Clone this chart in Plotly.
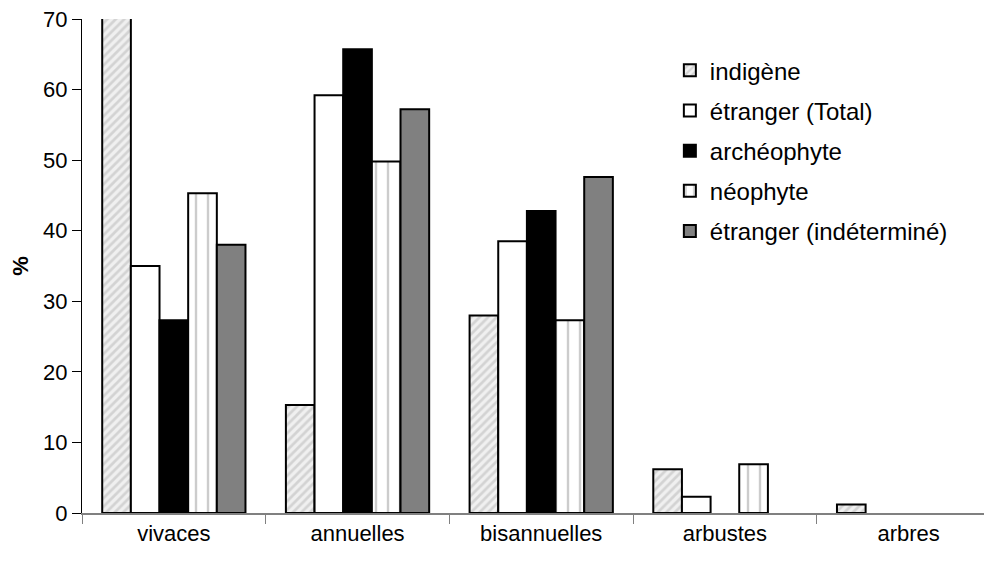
import plotly.graph_objects as go

# categories and series (percent)
categories = ["vivaces", "annuelles", "bisannuelles", "arbustes", "arbres"]
indigene = [70.2, 15.3, 28.0, 6.2, 1.2]
etranger_total = [35.0, 59.2, 38.5, 2.3, None]
archeophyte = [27.3, 65.7, 42.8, None, None]
neophyte = [45.3, 49.8, 27.3, 6.9, None]
etranger_indet = [38.0, 57.2, 47.6, None, None]

font = "Liberation Sans, Arial, sans-serif"
outline = dict(color="black", width=2)

fig = go.Figure()

# indigène - light gray diagonal hatch
fig.add_trace(go.Bar(
    x=categories, y=indigene, name="indigène", legendgroup="a", cliponaxis=False,
    marker=dict(color="white", line=outline,
                pattern=dict(shape="/", fgcolor="#b5b5b5", bgcolor="#f0f0f0",
                             size=6, solidity=0.45))
))

# étranger (Total) - plain white
fig.add_trace(go.Bar(
    x=categories, y=etranger_total, name="étranger (Total)", legendgroup="b",
    cliponaxis=False, marker=dict(color="white", line=outline)
))

# archéophyte - black
fig.add_trace(go.Bar(
    x=categories, y=archeophyte, name="archéophyte", legendgroup="c",
    cliponaxis=False, marker=dict(color="black", line=outline)
))

# néophyte - white with gray vertical dashes
fig.add_trace(go.Bar(
    x=categories, y=neophyte, name="néophyte", legendgroup="d", cliponaxis=False,
    marker=dict(color="white", line=outline,
                pattern=dict(shape="|", fgcolor="#999999", bgcolor="white",
                             size=12, solidity=0.2))
))

# étranger (indéterminé) - mid gray
fig.add_trace(go.Bar(
    x=categories, y=etranger_indet, name="étranger (indéterminé)", legendgroup="e",
    cliponaxis=False, marker=dict(color="#808080", line=outline)
))

# page body has an 8px default margin, so the figure is a bit smaller than the window
fig.update_layout(
    width=984, height=555,
    margin=dict(l=74, r=0, t=11, b=50),
    paper_bgcolor="white", plot_bgcolor="white",
    barmode="group", bargap=0.22, bargroupgap=0,
    font=dict(family=font, size=22, color="black"),
    showlegend=True,
    legend=dict(x=0.646, y=0.941, xanchor="left", yanchor="top",
                bgcolor="rgba(0,0,0,0)", tracegroupgap=6,
                font=dict(family=font, size=24, color="black")),
)

fig.update_xaxes(
    type="category", range=[-0.5, 4.454], automargin=False,
    tickson="boundaries", ticks="outside", ticklen=9, tickcolor="#808080",
    showline=True, linecolor="#808080", linewidth=1.5,
    showgrid=False, zeroline=False,
    tickfont=dict(family=font, size=22, color="black"),
)

fig.update_yaxes(
    range=[0, 70], tickvals=[0, 10, 20, 30, 40, 50, 60, 70], automargin=False,
    ticks="outside", ticklen=9, tickcolor="black", ticklabeloverflow="allow",
    showline=True, linecolor="black", linewidth=1,
    showgrid=False, zeroline=False,
    tickfont=dict(family=font, size=22, color="black"),
    title=dict(text="<b>%</b>", font=dict(family=font, size=22, color="black"),
               standoff=14),
)

fig.write_html("out.html")
